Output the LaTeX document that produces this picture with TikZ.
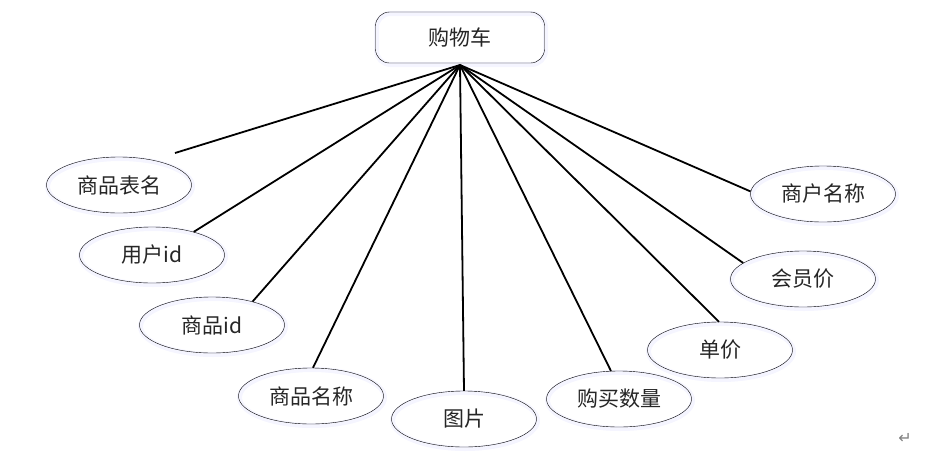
\documentclass[tikz,border=0pt]{standalone}
\usepackage{fontspec}
\setmainfont{Noto Sans CJK SC}
\newfontfamily\symfont{DejaVu Sans}
\usetikzlibrary{shapes.geometric}

\begin{document}
\begin{tikzpicture}[
    x=1pt, y=-1pt,
    font=\fontsize{21}{24}\selectfont,
    glow/.style={preaction={draw=blue!4, line width=5pt, transform canvas={xshift=1pt, yshift=-1.5pt}}},
    entity/.style={rectangle, draw=black, text=black!85, rounded corners=14pt, minimum width=169pt, minimum height=51pt, align=center, glow},
    attr/.style={ellipse, draw=black, text=black!85, minimum width=145pt, minimum height=56pt, inner sep=0pt, glow},
    link/.style={line width=1.8pt}
]
\useasboundingbox (0,0) rectangle (948,467);

% Nodes
\node[entity] (cart) at (460,37.5) {购物车};
\coordinate (hub) at (460,65);
\node[attr] (tname) at (119,185) {商品表名};
\node[attr] (uid) at (152,255) {用户id};
\node[attr] (gid) at (212,325) {商品id};
\node[attr] (gname) at (311,396) {商品名称};
\node[attr] (pic) at (464,419) {图片};
\node[attr] (qty) at (619,399) {购买数量};
\node[attr] (price) at (720,350) {单价};
\node[attr] (vip) at (803,279) {会员价};
\node[attr] (shop) at (823,194) {商户名称};
\coordinate (tname end) at (175,153);
\node[text=gray, font=\symfont\fontsize{16}{18}\selectfont] (mark) at (905,438) {↵};

% Arrows
\draw[link] (hub) -- (tname end);
\draw[link] (hub) -- (uid.29);
\draw[link] (hub) -- (gid.30);
\draw[link] (hub) -- (gname.86);
\draw[link] (hub) -- (pic.90);
\draw[link] (hub) -- (qty.106);
\draw[link] (hub) -- (price.92);
\draw[link] (hub) -- (vip.165);
\draw[link] (hub) -- (shop.178);

\end{tikzpicture}
\end{document}
